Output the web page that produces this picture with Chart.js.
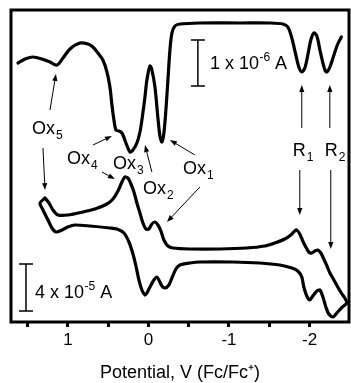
<!DOCTYPE html>
<html><head><meta charset="utf-8">
<script src="https://cdn.jsdelivr.net/npm/chart.js@4.4.0/dist/chart.umd.min.js"></script>
<style>html,body{margin:0;padding:0;background:#fff;}</style>
</head><body>
<canvas id="c" width="351" height="383"></canvas>
<script>
// ---- Data (potential in V vs Fc/Fc+, current in arbitrary offset units) ----
const dpvPotential = [1.619,1.532,1.433,1.321,1.222,1.135,1.061,0.974,0.850,0.751,0.689,0.627,0.565,0.515,0.478,0.453,0.428,0.403,0.366,0.341,0.316,0.279,0.229,0.192,0.143,0.105,0.081,0.043,0.019,-0.019,-0.043,-0.081,-0.118,-0.143,-0.168,-0.192,-0.217,-0.242,-0.267,-0.292,-0.329,-0.391,-0.639,-1.135,-1.507,-1.669,-1.731,-1.780,-1.830,-1.867,-1.904,-1.942,-1.979,-2.016,-2.053,-2.091,-2.129,-2.166,-2.191,-2.216,-2.253,-2.303,-2.350,-2.395];
const dpvCurrent = [259,263,265,263,260,257,264,273,279,278,275,269,262,250,235,217,202,192,191,190,187,179,170,172,179,190,202,225,242,256,252,235,204,186,180,189,212,242,272,289,296,298,299,299,299,298,295,284,267,255,250,254,267,282,289,286,272,259,252,250,255,267,278,285];

const cvPotential = [1.284,1.234,1.185,1.123,1.000,0.813,0.664,0.515,0.440,0.378,0.329,0.292,0.254,0.217,0.180,0.143,0.105,0.068,0.031,-0.006,-0.043,-0.081,-0.118,-0.155,-0.192,-0.242,-0.304,-0.515,-0.887,-1.222,-1.445,-1.569,-1.693,-1.768,-1.817,-1.842,-1.879,-1.916,-1.954,-1.991,-2.029,-2.066,-2.103,-2.141,-2.178,-2.216,-2.253,-2.302,-2.350,-2.395,-2.438,-2.463,
  -2.407,-2.350,-2.289,-2.239,-2.203,-2.166,-2.129,-2.091,-2.041,-2.004,-1.966,-1.929,-1.904,-1.854,-1.780,-1.631,-1.383,-1.048,-0.639,-0.515,-0.391,-0.341,-0.292,-0.254,-0.205,-0.168,-0.130,-0.105,-0.068,-0.019,0.019,0.043,0.081,0.118,0.155,0.192,0.242,0.304,0.391,0.478,0.726,0.912,1.000,1.073,1.148,1.197,1.247,1.309,1.346,1.284];
const cvCurrent = [124,119,112,107,107,110,113,118,123,131,140,145,144,138,130,119,109,99,93,93,98,100,97,91,82,76,74,73,73,74,76,79,83,87,91,92,88,81,75,70,69,71,72,69,63,56,49,42,35,29,24,19,
  15,10,5,8,15,25,32,31,26,22,26,35,45,51,54,57,59,60,60,59,57,53,44,37,34,36,42,45,42,35,29,27,32,42,56,68,80,89,93,94,96,97,95,92,90,94,102,112,119,124];

const xTickLabels = [1, 0, -1, -2];
const peakLabels = ['Ox', 'Ox', 'Ox', 'Ox', 'Ox', 'R', 'R'];
const peakSubs = ['5', '4', '3', '2', '1', '1', '2'];

// ---- Annotation placement (data coordinates) ----
const labelPos = [[1.445,188],[1.011,158],[0.440,153],[0.068,128],[-0.428,148],[-1.793,166],[-2.190,166]];
const arrows = [
  [1.222,212, 1.148,248],[1.309,174, 1.284,132],
  [0.689,177, 0.453,186],[0.577,150, 0.416,143],
  [-0.043,150, 0.043,177],
  [-0.577,167, -0.267,182],[-0.639,135, -0.230,100],
  [-1.904,194, -1.904,237],[-1.879,152, -1.879,107],
  [-2.252,194, -2.252,237],[-2.264,152, -2.264,73]
];
const scaleBars = [
  {x:-0.614, y0:236, y1:282, tx:-0.763, ty:253, main:'1 x 10', sup:'-6', tail:' A'},
  {x:1.52, y0:11, y1:58, tx:1.408, ty:24, main:'4 x 10', sup:'-5', tail:' A'}
];

const FONT = '"Liberation Sans", Arial, Helvetica, sans-serif';
Chart.defaults.font.family = FONT;
Chart.defaults.color = '#000';

const toPts = (xs, ys) => xs.map((v, i) => ({x: v, y: ys[i]}));

const annot = {
  id: 'annot',
  afterDraw(chart) {
    const {ctx, chartArea: a} = chart;
    const X = v => chart.scales.x.getPixelForValue(v);
    const Y = v => chart.scales.y.getPixelForValue(v);
    ctx.save();
    // frame
    ctx.strokeStyle = '#000'; ctx.lineWidth = 3;
    ctx.strokeRect(a.left, a.top, a.right - a.left, a.bottom - a.top);
    ctx.fillStyle = '#000';
    ctx.textBaseline = 'alphabetic'; ctx.textAlign = 'left';
    // peak labels
    peakLabels.forEach((t, i) => {
      const x = X(labelPos[i][0]), y = Y(labelPos[i][1]);
      ctx.font = '18px ' + FONT;
      ctx.fillText(t, x, y);
      const w = ctx.measureText(t).width;
      ctx.font = '12px ' + FONT;
      ctx.fillText(peakSubs[i], x + w + 1, y + 5);
    });
    // arrows
    ctx.lineWidth = 1;
    arrows.forEach(([v0, c0, v1, c1]) => {
      const x0 = X(v0), y0 = Y(c0), x1 = X(v1), y1 = Y(c1);
      const ang = Math.atan2(y1 - y0, x1 - x0);
      const hl = 7, hw = 2.6;
      const bx = x1 - hl * Math.cos(ang), by = y1 - hl * Math.sin(ang);
      ctx.beginPath(); ctx.moveTo(x0, y0); ctx.lineTo(bx, by); ctx.stroke();
      ctx.beginPath();
      ctx.moveTo(x1, y1);
      ctx.lineTo(bx + hw * Math.sin(ang), by - hw * Math.cos(ang));
      ctx.lineTo(bx - hw * Math.sin(ang), by + hw * Math.cos(ang));
      ctx.closePath(); ctx.fill();
    });
    // scale bars
    scaleBars.forEach(b => {
      const x = X(b.x), ya = Y(b.y0), yb = Y(b.y1);
      ctx.lineWidth = 1.5;
      ctx.beginPath();
      ctx.moveTo(x, ya); ctx.lineTo(x, yb);
      ctx.moveTo(x - 7, ya); ctx.lineTo(x + 7, ya);
      ctx.moveTo(x - 7, yb); ctx.lineTo(x + 7, yb);
      ctx.stroke();
      let tx = X(b.tx); const ty = Y(b.ty);
      ctx.font = '18px ' + FONT;
      ctx.fillText(b.main, tx, ty); tx += ctx.measureText(b.main).width;
      ctx.font = '12px ' + FONT;
      ctx.fillText(b.sup, tx + 0.5, ty - 8); tx += ctx.measureText(b.sup).width + 0.5;
      ctx.font = '18px ' + FONT;
      ctx.fillText(b.tail, tx, ty);
    });
    ctx.restore();
  }
};

new Chart(document.getElementById('c'), {
  type: 'scatter',
  data: {
    datasets: [
      {label: 'DPV', data: toPts(dpvPotential, dpvCurrent), showLine: true, borderColor: '#000', borderWidth: 3.2, pointRadius: 0, tension: 0.3, borderJoinStyle: 'round', borderCapStyle: 'round'},
      {label: 'CV', data: toPts(cvPotential, cvCurrent), showLine: true, borderColor: '#000', borderWidth: 3.2, pointRadius: 0, tension: 0.25, borderJoinStyle: 'round', borderCapStyle: 'round'}
    ]
  },
  options: {
    responsive: false, animation: false,
    layout: {padding: {left: 11, top: 10, right: 2, bottom: 0}},
    plugins: {legend: {display: false}, tooltip: {enabled: false}},
    scales: {
      x: {
        type: 'linear', reverse: true, min: -2.49, max: 1.706,
        afterFit: s => { s.height = 61; },
        ticks: {stepSize: 0.5, includeBounds: false, autoSkip: false, maxRotation: 0, padding: 3,
          font: {size: 17}, color: '#000',
          callback: v => { const r = Math.round(v); return (Math.abs(v - r) < 1e-6 && xTickLabels.includes(r)) ? String(r) : ''; }},
        grid: {drawOnChartArea: false, drawTicks: true, tickLength: 5, tickWidth: 3, tickColor: '#000'},
        border: {display: false},
        title: {display: true, text: 'Potential, V (Fc/Fc\u207A)', color: '#000', font: {size: 18}, padding: {top: 0, bottom: -1}}
      },
      y: {type: 'linear', display: false, min: 0, max: 312}
    }
  },
  plugins: [annot]
});
</script>
</body></html>
